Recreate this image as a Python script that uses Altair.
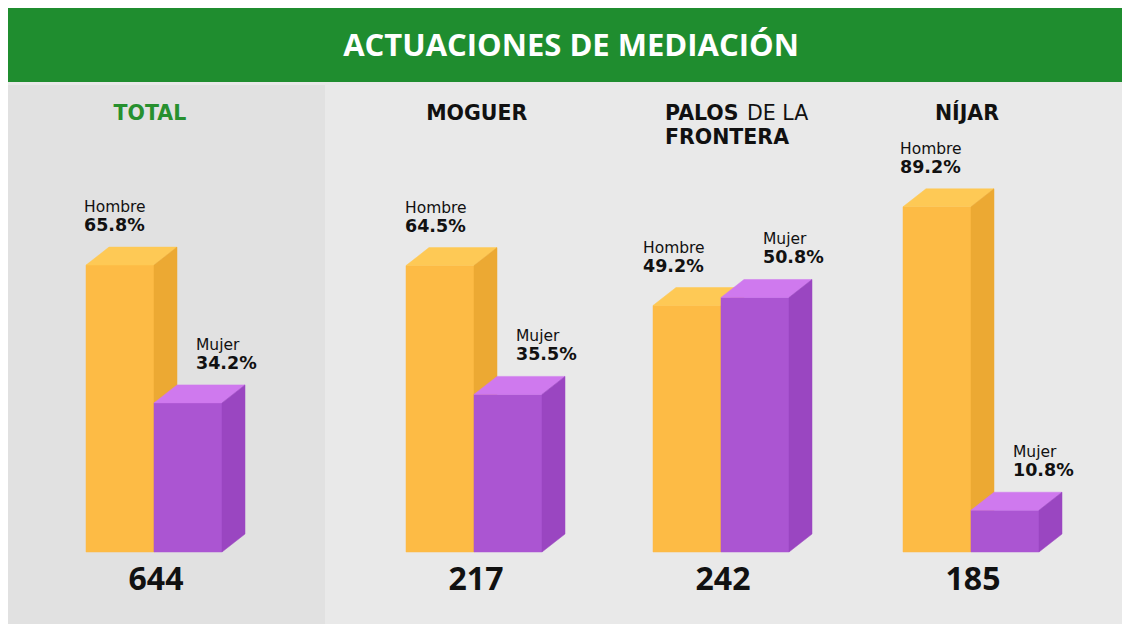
import altair as alt
import pandas as pd

# ---------------- data ----------------
TITLE = "ACTUACIONES DE MEDIACIÓN"
panels = ["TOTAL", "MOGUER", "PALOS DE LA FRONTERA", "NÍJAR"]
totals = [644, 217, 242, 185]
sexes = ["Hombre", "Mujer"]
hombre_pct = [65.8, 64.5, 49.2, 89.2]
mujer_pct = [34.2, 35.5, 50.8, 10.8]

# ---------------- layout / style ----------------
PANEL_W = [317, 247, 250, 300]
PANEL_H = 539
BASE_FROM_TOP = 467          # baseline position inside panel (px)
BAR_LEFT = [78, 81, 81, 81]  # px from panel left
BAR_W = 68                   # px
PX_PER_PCT = [4.36, 4.44, 5.01, 3.87]
DEPTH_X = 23                 # px
DEPTH_Y = 18                 # px
HOMBRE_LBL_DX = [-2, -1, -10, -3]
MUJER_LBL_DX = 42

GREEN = "#1f8d2f"
TITLE_GREEN = "#27902f"
COL = {
    "Hombre": {"front": "#fdbb45", "top": "#fec955", "side": "#eca933"},
    "Mujer": {"front": "#ab55d2", "top": "#cf79ee", "side": "#9a46c1"},
}
BG = "#e9e9e9"
TOTAL_FILL = "#e1e1e1"
LABEL_FONT = "DejaVu Sans"
NUM_FONT = "Open Sans"
TITLE_SIZE = 20.5


def panel_chart(i):
    s = PX_PER_PCT[i]
    dxu = DEPTH_X / BAR_W
    dyu = DEPTH_Y / s
    xscale = alt.Scale(domain=[-BAR_LEFT[i] / BAR_W, (PANEL_W[i] - BAR_LEFT[i]) / BAR_W],
                       nice=False, zero=False)
    yscale = alt.Scale(domain=[-(PANEL_H - BASE_FROM_TOP) / s, BASE_FROM_TOP / s],
                       nice=False, zero=False)
    pcts = [hombre_pct[i], mujer_pct[i]]

    def X(f):
        return alt.X(f, type="quantitative", scale=xscale, axis=None)

    def Y(f):
        return alt.Y(f, type="quantitative", scale=yscale, axis=None)

    layers = []
    for j, sex in enumerate(sexes):
        p = pcts[j]
        front = pd.DataFrame({"x0": [j], "x1": [j + 1], "y0": [0.0], "y1": [p]})
        top = pd.DataFrame({"y": [p, p + dyu], "xa": [j, j + dxu], "xb": [j + 1, j + 1 + dxu]})
        side = pd.DataFrame({"x": [j + 1, j + 1 + dxu], "ya": [p, p + dyu], "yb": [0.0, dyu]})
        c = COL[sex]
        layers.append(alt.Chart(front).mark_rect(color=c["front"], stroke=c["front"], strokeWidth=0.5)
                      .encode(x=X("x0"), x2="x1", y=Y("y0"), y2="y1"))
        layers.append(alt.Chart(top).mark_area(orient="horizontal", color=c["top"], stroke=c["top"], strokeWidth=0.5)
                      .encode(y=Y("y"), x=X("xa"), x2="xb"))
        layers.append(alt.Chart(side).mark_area(orient="vertical", color=c["side"], stroke=c["side"], strokeWidth=0.5)
                      .encode(x=X("x"), y=Y("ya"), y2="yb"))

    lbl = pd.DataFrame({
        "x": [HOMBRE_LBL_DX[i] / BAR_W, 1 + MUJER_LBL_DX / BAR_W],
        "y": [pcts[0] + dyu, pcts[1] + dyu],
        "name": sexes,
        "pct": [f"{v:.1f}%" for v in pcts],
    })
    layers.append(alt.Chart(lbl).mark_text(align="left", baseline="alphabetic", dy=-35,
                                           font=LABEL_FONT, fontSize=15.5, color="#111111")
                  .encode(x=X("x"), y=Y("y"), text="name:N"))
    layers.append(alt.Chart(lbl).mark_text(align="left", baseline="alphabetic", dy=-16,
                                           font=LABEL_FONT, fontSize=17.5, fontWeight="bold", color="#111111")
                  .encode(x=X("x"), y=Y("y"), text="pct:N"))

    # total count
    tot = pd.DataFrame({"x": [1 + 2 / BAR_W], "t": [str(totals[i])]})
    layers.append(alt.Chart(tot).mark_text(align="center", baseline="alphabetic", font=NUM_FONT,
                                           fontSize=32, fontWeight="bold", color="#111111")
                  .encode(x=X("x"), y=alt.value(505), text="t:N"))

    # panel title
    name = panels[i]
    if name == "PALOS DE LA FRONTERA":
        t1 = pd.DataFrame({"x": [12 / BAR_W, 12 / BAR_W], "y": [35, 59], "t": ["PALOS", "FRONTERA"]})
        t2 = pd.DataFrame({"x": [94 / BAR_W], "t": ["DE LA"]})
        layers.append(alt.Chart(t1).mark_text(align="left", baseline="alphabetic", font=LABEL_FONT,
                                              fontSize=TITLE_SIZE, fontWeight="bold", color="#111111")
                      .encode(x=X("x"), y=alt.Y("y:Q", scale=None), text="t:N"))
        layers.append(alt.Chart(t2).mark_text(align="left", baseline="alphabetic", font=LABEL_FONT,
                                              fontSize=TITLE_SIZE, color="#111111")
                      .encode(x=X("x"), y=alt.value(35), text="t:N"))
    else:
        cx = {"TOTAL": 0.94, "MOGUER": 1.04, "NÍJAR": 0.94}[name]
        color = TITLE_GREEN if name == "TOTAL" else "#111111"
        tt = pd.DataFrame({"x": [cx], "t": [name]})
        layers.append(alt.Chart(tt).mark_text(align="center", baseline="alphabetic", font=LABEL_FONT,
                                              fontSize=TITLE_SIZE, fontWeight="bold", color=color)
                      .encode(x=X("x"), y=alt.value(35), text="t:N"))

    props = dict(width=PANEL_W[i], height=PANEL_H)
    if i == 0:
        props["view"] = alt.ViewBackground(fill=TOTAL_FILL, strokeWidth=0)
    else:
        props["view"] = alt.ViewBackground(fillOpacity=0, strokeWidth=0)
    return alt.layer(*layers).properties(**props)


banner = alt.Chart(pd.DataFrame({"t": [TITLE]})).mark_text(
    align="center", baseline="alphabetic", font=NUM_FONT, fontSize=31, fontWeight="bold", color="white"
).encode(text="t:N", x=alt.value(563), y=alt.value(48)).properties(
    width=sum(PANEL_W), height=74, view=alt.ViewBackground(fill=GREEN, strokeWidth=0)
)

row = alt.hconcat(*[panel_chart(i) for i in range(4)], spacing=0, bounds="flush")
chart = alt.vconcat(banner, row, spacing=3, bounds="flush").properties(
    padding=0, background=BG).configure_view(strokeWidth=0)

chart.save("out.html", embed_options={"renderer": "svg", "actions": False})
